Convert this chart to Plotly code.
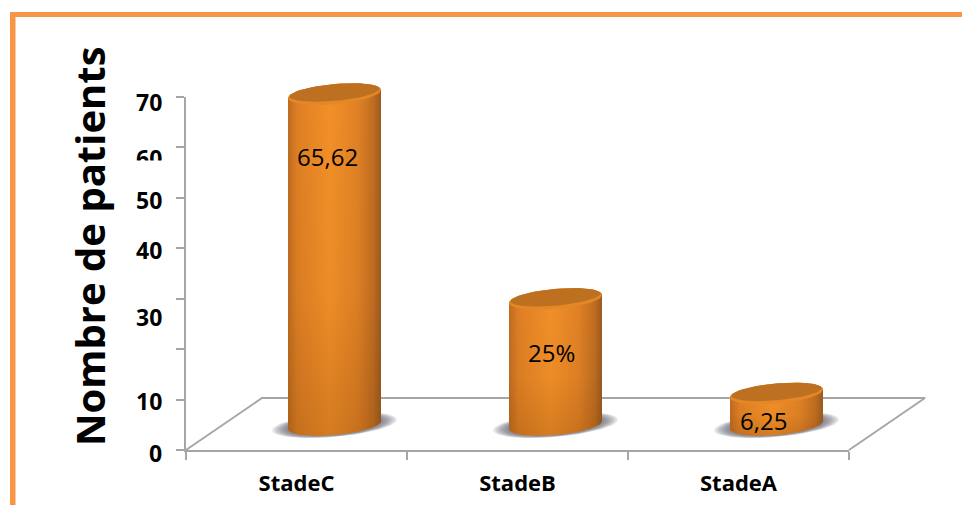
import numpy as np
import plotly.graph_objects as go

categories = ["StadeC", "StadeB", "StadeA"]
values = [65.62, 25, 6.25]
value_labels = ["65,62", "25%", "6,25"]
y_ticks = [0, 10, 20, 30, 40, 50, 60, 70]
y_tick_labels = ["0", "10", "", "30", "40", "50", "60", "70"]
y_label_shift_px = [-3, -1, 0, -18, -2, -2, -11, -5]
y_title = "Nombre de patients"

W, H = 962, 505
L, R, T, B = 186, 849, 97, 450
PX_X = (R - L) / 3
PX_Y = (B - T) / 70
DEPTH_X = 76 / PX_X
DEPTH_Y = (B - 398) / PX_Y
BASE = (B - 425) / PX_Y
OFFSET = 38 / PX_X
A = 46.5 / PX_X
E_B = 10 / PX_Y
TILT = 4 / PX_Y
FONT = "Open Sans"
AXIS = "#A6A6A6"
px = lambda p: p / W
py = lambda p: 1 - p / H
MARKS = dict(xaxis="x3", yaxis="y3", hoverinfo="skip", showlegend=False)


def ellipse(cx, cy, sx=1.0, sy=1.0, t0=0.0, t1=2 * np.pi, n=72):
    t = np.linspace(t0, t1, n)
    xs = cx + A * sx * np.cos(t)
    ys = cy + E_B * sy * np.sin(t) + TILT * sx * np.cos(t)
    return xs, ys


fig = go.Figure()

# main axes need a trace each to be drawn; these carry the values invisibly
fig.add_trace(go.Scatter(x=[0, 1, 2], y=values, mode="markers", marker=dict(opacity=0),
                         hoverinfo="skip", showlegend=False))
fig.add_trace(go.Scatter(x=[0, 1, 2], y=values, xaxis="x2", mode="markers",
                         marker=dict(opacity=0), hoverinfo="skip", showlegend=False))

# floor outline
fig.add_trace(go.Scatter(
    x=[-0.5, -0.5 + DEPTH_X, 2.5 + DEPTH_X, 2.5],
    y=[0, DEPTH_Y, DEPTH_Y, 0],
    mode="lines", line=dict(color=AXIS, width=2), **MARKS))

body_scale = [[0, "#BD6C20"], [0.10, "#DE7F24"], [0.45, "#F29028"],
              [0.75, "#E08125"], [0.92, "#BF6D21"], [1, "#9A5A20"]]
shade_scale = [[0, "rgba(110,55,5,0.22)"], [0.4, "rgba(110,55,5,0.04)"], [1, "rgba(110,55,5,0)"]]

for i, v in enumerate(values):
    cx = i + OFFSET
    top = BASE + v
    # shadow
    for k in range(7):
        sc = 1.34 - k * 0.05
        xs, ys = ellipse(cx, BASE, sx=sc, sy=1.2 - k * 0.025)
        fig.add_trace(go.Scatter(x=xs, y=ys, mode="lines", fill="toself",
                                 line=dict(width=0), fillcolor="rgba(90,90,100,0.15)", **MARKS))
    # body
    bx, by = ellipse(cx, BASE, t0=np.pi, t1=2 * np.pi)
    tx, ty = ellipse(cx, top, t0=0, t1=np.pi)
    xs, ys = np.r_[bx, tx, bx[0]], np.r_[by, ty, by[0]]
    fig.add_trace(go.Scatter(x=xs, y=ys, mode="lines", fill="toself", line=dict(width=0),
                             fillgradient=dict(type="horizontal", colorscale=body_scale), **MARKS))
    fig.add_trace(go.Scatter(x=xs, y=ys, mode="lines", fill="toself", line=dict(width=0),
                             fillgradient=dict(type="vertical", colorscale=shade_scale), **MARKS))
    # top face: lighter rim, darker centre
    xs, ys = ellipse(cx, top)
    fig.add_trace(go.Scatter(x=xs, y=ys, mode="lines", fill="toself", line=dict(width=0),
                             fillcolor="#E48727", **MARKS))
    xs, ys = ellipse(cx, top + 1.6 / PX_Y, sx=0.97, sy=0.84)
    fig.add_trace(go.Scatter(x=xs, y=ys, mode="lines", fill="toself", line=dict(width=0),
                             fillcolor="#BE7021", **MARKS))

annotations = []
for tick, lab, sh in zip(y_ticks, y_tick_labels, y_label_shift_px):
    if lab:
        annotations.append(dict(x=px(164), xref="paper", y=tick, yref="y", text=lab,
                                xanchor="right", yanchor="middle", yshift=sh, showarrow=False,
                                font=dict(family=FONT, size=23, color="black", weight=700)))
# the reference cuts off the lower part of the 60 label
annotations.append(dict(x=px(150), xref="paper", y=py(170), yref="paper", text=" ",
                        width=50, height=16, bgcolor="white", showarrow=False,
                        xanchor="center", yanchor="middle", font=dict(size=10)))
annotations.append(dict(x=px(89), xref="paper", y=py(246), yref="paper", text=y_title,
                        textangle=-90, showarrow=False, xanchor="center", yanchor="middle",
                        font=dict(family=FONT, size=40, color="black", weight=700)))
label_x = [327, 551, 763.5]
label_y = [156, 352, 420]
for i, lab in enumerate(value_labels):
    annotations.append(dict(x=px(label_x[i]), xref="paper", y=py(label_y[i]), yref="paper",
                            text=lab, showarrow=False, xanchor="center", yanchor="middle",
                            font=dict(family=FONT, size=24, color="black")))

fig.update_layout(
    width=W, height=H, autosize=False, showlegend=False,
    paper_bgcolor="white", plot_bgcolor="rgba(0,0,0,0)",
    margin=dict(l=0, r=0, t=0, b=0, pad=0),
    xaxis=dict(domain=[L / W, R / W], range=[-0.5, 2.5],
               tickvals=[-0.5, 0.5, 1.5, 2.5], ticktext=["", "", "", ""],
               ticks="outside", ticklen=8, tickwidth=2, tickcolor=AXIS,
               showline=True, linecolor=AXIS, linewidth=2, showgrid=False, zeroline=False,
               fixedrange=True),
    xaxis2=dict(range=[-0.5, 2.5], overlaying="x", side="bottom", tickvals=[0, 1, 2],
                ticktext=categories, ticks="outside", ticklen=14, tickcolor="rgba(0,0,0,0)",
                showline=False, showgrid=False, zeroline=False, fixedrange=True,
                tickfont=dict(family=FONT, size=22, color="black", weight=700)),
    yaxis=dict(domain=[1 - B / H, 1 - T / H], range=[0, 70],
               tickvals=y_ticks, ticktext=[""] * len(y_ticks),
               ticks="outside", ticklen=8, tickwidth=2, tickcolor=AXIS,
               showline=True, linecolor=AXIS, linewidth=2, showgrid=False, zeroline=False,
               fixedrange=True),
    # full-page axes sharing the same scale, so the 3D marks may pass the plot area
    xaxis3=dict(domain=[0, 1], anchor="y3", visible=False, fixedrange=True,
                range=[-0.5 - L / PX_X, 2.5 + (W - R) / PX_X]),
    yaxis3=dict(domain=[0, 1], anchor="x3", visible=False, fixedrange=True,
                range=[-(H - B) / PX_Y, 70 + T / PX_Y]),
    annotations=annotations,
    shapes=[
        dict(type="rect", xref="paper", yref="paper", x0=px(10), x1=px(962), y0=py(12), y1=py(17),
             fillcolor="#F79646", line=dict(width=0), layer="above"),
        dict(type="rect", xref="paper", yref="paper", x0=px(10), x1=px(15.5), y0=py(12), y1=py(505),
             fillcolor="#F79646", line=dict(width=0), layer="above"),
    ],
)

fig.write_html("out.html", config=dict(displayModeBar=False),
               post_script="document.body.style.margin='0';")
